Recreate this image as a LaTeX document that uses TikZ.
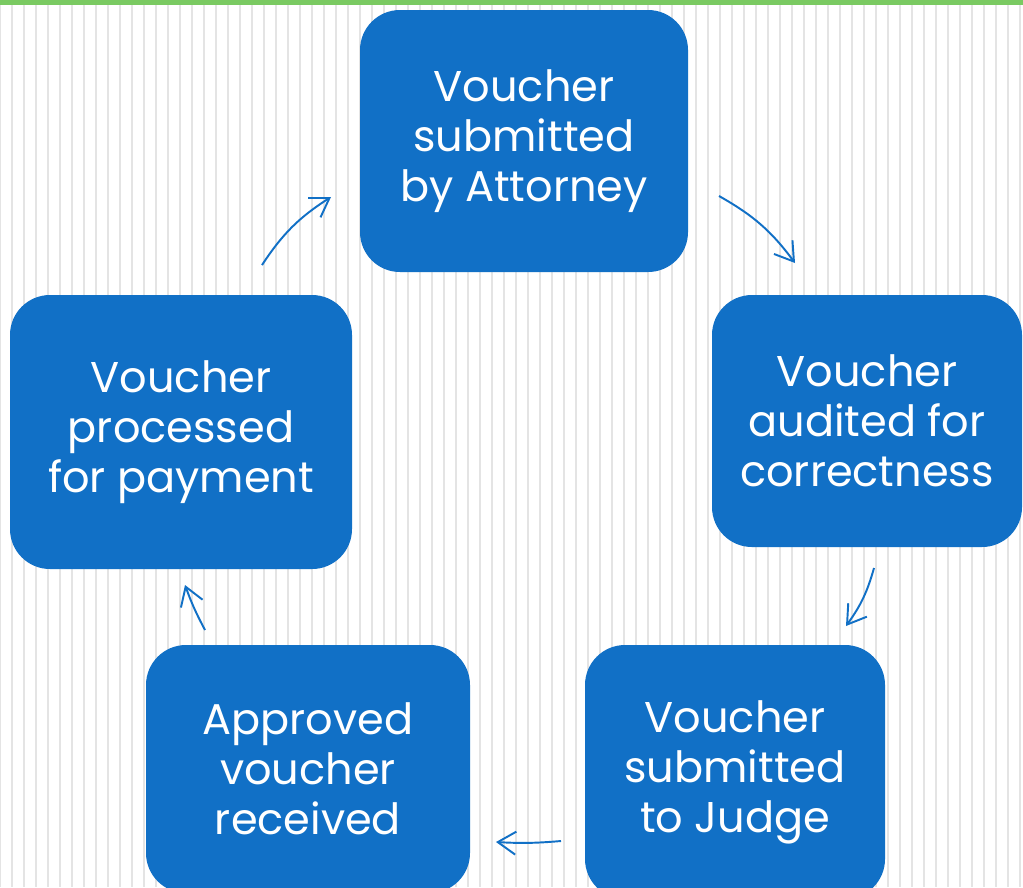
\documentclass[tikz,border=0pt]{standalone}
\usepackage{fontspec}
\setmainfont{Poppins}
\usetikzlibrary{arrows.meta,positioning}
\definecolor{stepblue}{RGB}{17,112,198}
\definecolor{stripegray}{RGB}{228,228,228}
\definecolor{topgreen}{RGB}{122,202,98}
\newcommand{\Step}[5]% pos, name, width, height, text
{\node[stepbox,minimum width=#3*0.02cm,minimum height=#4*0.02cm] (#2) at (#1) {#5};
}
\newcommand{\Arrow}[3]% from, to, bend
{ \draw[cycarrow] (#1) to[bend left=#3] (#2);}
\tikzset{
  stepbox/.style={fill=stepblue,draw=none,rounded corners=0.8cm,text=white,
    align=center,inner sep=0pt,font=\fontsize{24.5}{28.45}\selectfont},
  cycarrow/.style={draw=stepblue,line width=1.1pt,
    -{Straight Barb[length=3.6mm,width=4.6mm,line width=1.1pt]}}
}

\begin{document}
\begin{tikzpicture}[x=0.02cm,y=-0.02cm]
        \useasboundingbox (0,0) rectangle (1023,887);
        \clip (0,0) rectangle (1023,887);
        \fill[white] (0,0) rectangle (1023,887);
        % background stripes
        \foreach \i in {0,...,42}{
          \draw[stripegray,line width=1.1pt] (12+24*\i,0) -- (12+24*\i,887);
          \draw[stripegray,line width=0.6pt] (24*\i,0) -- (24*\i,887);
        }
        \fill[topgreen] (0,0) rectangle (1023,5);
        \Step{524,141}{submit}{328}{262}{Voucher\\submitted\\by Attorney}
        \Step{867,421}{audit}{310}{252}{Voucher\\audited for\\correctness}
        \Step{735,772}{judge}{300}{254}{Voucher\\submitted\\to Judge}
        \Step{308,769}{approve}{324}{248}{Approved\\voucher\\received}
        \Step{181,432}{process}{342}{274}{Voucher\\processed\\for payment}
        \coordinate (a1s) at (719,196);
        \coordinate (a1e) at (795,263);
        \coordinate (a2s) at (874,568);
        \coordinate (a2e) at (846,626);
        \coordinate (a3s) at (561,841);
        \coordinate (a3e) at (496,842);
        \coordinate (a4s) at (205,630);
        \coordinate (a4e) at (185,585);
        \coordinate (a5s) at (262,265);
        \coordinate (a5e) at (331,197);
        \Arrow{a1s}{a1e}{12}
        \Arrow{a2s}{a2e}{10}
        \Arrow{a3s}{a3e}{4}
        \Arrow{a4s}{a4e}{4}
        \Arrow{a5s}{a5e}{12}
      \end{tikzpicture}
\end{document}
